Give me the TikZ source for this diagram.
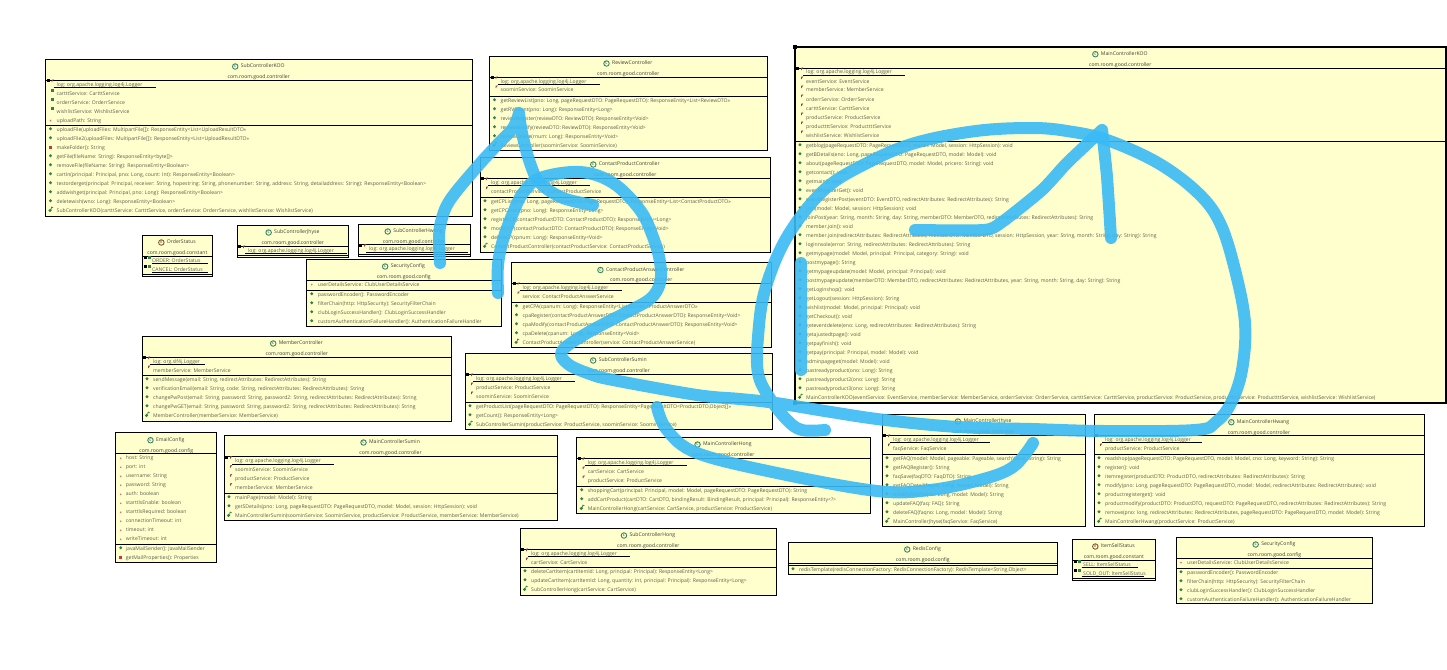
\documentclass[tikz,border=0pt]{standalone}
\usepackage{fontspec}
\usetikzlibrary{positioning}
\setmainfont{Open Sans}
\definecolor{boxfill}{RGB}{255,255,206}
\definecolor{rowtext}{RGB}{92,92,76}
\definecolor{titletext}{RGB}{62,62,52}
\definecolor{icongreen}{RGB}{48,128,72}
\definecolor{titlegreen}{RGB}{58,132,104}
\definecolor{enumbrown}{RGB}{130,85,55}
\definecolor{flagred}{RGB}{150,60,75}
\definecolor{methred}{RGB}{205,50,65}
\definecolor{inkblue}{RGB}{58,186,246}
\tikzset{
  classbox/.style={draw=black,fill=boxfill,line width=.9pt,anchor=north west,inner sep=0pt,outer sep=0pt},
  sepline/.style={draw=black,line width=.8pt},
  rowlabel/.style={anchor=west,inner sep=0pt,text=rowtext,text height=4pt,text depth=1.2pt,font=\fontsize{5.1}{5.5}\selectfont},
  classtitle/.style={inner sep=0pt,text=titletext,text height=4pt,text depth=1.2pt,font=\fontsize{5.1}{5.5}\selectfont},
  classicon/.style={circle,draw=titlegreen,line width=.9pt,inner sep=0pt,minimum size=5.5pt,text=titlegreen,font=\fontsize{3.4}{3}\selectfont\bfseries},
  enumicon/.style={classicon,draw=enumbrown,text=enumbrown},
  ink/.style={draw=inkblue,opacity=.9,line width=12pt,line cap=round,line join=round},
}
\newcounter{rowc}
\newif\ifenumtitle
\def\rowoff{11}
\def\bx{0}\def\rowy{0}\def\sepb{0}
% name, x1, y1, x2, y2, sep1, sep2, title, package
\newcommand\uclass[9]{%
  \pgfmathsetmacro\boxw{#4-#2}\pgfmathsetmacro\boxh{#5-#3}%
  \pgfmathsetmacro\midx{(#2+#4)/2+4}%
  \pgfmathsetmacro\rowtmp{#6+4.6}\xdef\rowy{\rowtmp}\xdef\bx{#2}\xdef\sepb{#7}%
  \node[classbox,minimum width=\boxw pt,minimum height=\boxh pt] (#1) at (#2,#3) {};
  \draw[sepline] (#2,#6) -- (#4,#6);
  \draw[sepline] (#2,#7) -- (#4,#7);
  \node[classtitle] (#1t) at (\midx,#3+7.5) {#8};
  \ifenumtitle
    \node[enumicon,left=2.2pt of #1t] (#1i) {E};
  \else
    \node[classicon,left=2.2pt of #1t] (#1i) {C};
  \fi
  \pgfmathsetmacro\midy{#3+18}\pgfmathsetmacro\midp{(#2+#4)/2}%
  \node[classtitle] (#1p) at (\midp,\midy) {#9};
}
\newcommand\nextrow{\pgfmathsetmacro\rowtmp{\rowy+9}\xdef\rowy{\rowtmp}}
\newcommand\rowtext[1]{%
  \stepcounter{rowc}%
  \pgfmathsetmacro\tx{\bx+\rowoff}%
  \node[rowlabel] (r\arabic{rowc}) at (\tx,\rowy) {#1};
}
% static log field: underline width, text
\newcommand\ulog[2]{%
  \fill[black] (\bx+1,\rowy-5.2) rectangle ++(3,3);
  \fill[flagred] (\bx+6,\rowy-4.8) -- ++(2.2,-.4) -- ++(-.6,1.2) -- ++(-.8,.2) -- ++(0,1.2) -- ++(-.8,0) -- cycle;
  \draw[black,line width=.6pt] (\bx+8,\rowy+2.6) -- ++(#1,0);
  \rowtext{#2}\nextrow}
% private final field
\newcommand\ufin[1]{%
  \fill[flagred] (\bx+6,\rowy-4.8) -- ++(2.2,-.4) -- ++(-.6,1.2) -- ++(-.8,.2) -- ++(0,1.2) -- ++(-.8,0) -- cycle;
  \rowtext{#1}\nextrow}
% protected field
\newcommand\ugrn[1]{\fill[icongreen] (\bx+5.5,\rowy-4.2) rectangle ++(3,2.6);\rowtext{#1}\nextrow}
% private field
\newcommand\upri[1]{\fill[methred!70!white] (\bx+5,\rowy) circle (.9pt);\rowtext{#1}\nextrow}
% enum constant
\newcommand\uenu[2]{%
  \fill[black] (\bx+1.5,\rowy-4.6) rectangle ++(3,3);
  \fill[icongreen] (\bx+6,\rowy-5) rectangle ++(3,3);
  \draw[black,line width=.6pt] (\bx+9.5,\rowy+2.6) -- ++(#1,0);
  \rowtext{#2}\nextrow}
% start of the methods compartment
\newcommand\umeths{\pgfmathsetmacro\rowtmp{\sepb+4.6}\xdef\rowy{\rowtmp}}
% public method
\newcommand\umet[1]{\fill[icongreen] (\bx+5,\rowy-.9) circle (1.6pt);\rowtext{#1}\nextrow}
% private method
\newcommand\upme[1]{\fill[methred] (\bx+3.4,\rowy-1.6) rectangle ++(3.2,2.8);\rowtext{#1}\nextrow}
% constructor
\newcommand\ucon[1]{\fill[icongreen] (\bx+4.6,\rowy-.2) circle (1.7pt);
  \draw[icongreen,line width=.7pt] (\bx+5.6,\rowy-1) -- ++(.6,-3) (\bx+5.8,\rowy-2.6) -- ++(1.8,-.6);
  \rowtext{#1}\nextrow}
\def\LOGT{log: org.apache.logging.log4j.Logger}
\def\PK{com.room.good.controller}
\def\PC{com.room.good.config}
\def\PN{com.room.good.constant}
\def\RA{RedirectAttributes}
\def\PR{PageRequestDTO}
\begin{document}
\begin{tikzpicture}[x=1pt,y=-1pt]
\useasboundingbox (0,0) rectangle (1447,669);
\fill[white] (0,0) rectangle (1447,669);

\uclass{subkoo}{45.5}{59}{472}{216}{80}{125}{SubControllerKOO}{\PK}
\ulog{102}{\LOGT}
\ugrn{cartttService: CartttService}
\ugrn{orderrService: OrderrService}
\ugrn{wishlistService: WishlistService}
\upri{uploadPath: String}
\umeths
\umet{uploadFile(uploadFiles: MultipartFile[]): ResponseEntity<List<UploadResultDTO>>}
\umet{uploadFile2(uploadFiles: MultipartFile[]): ResponseEntity<List<UploadResultDTO>>}
\upme{makeFolder(): String}
\umet{getFile(fileName: String): ResponseEntity<byte[]>}
\umet{removeFile(fileName: String): ResponseEntity<Boolean>}
\umet{cartIn(principal: Principal, pno: Long, count: Int): ResponseEntity<Boolean>}
\umet{testorderget(principal: Principal, receiver: String, hopestring: String, phonenumber: String, address: String, detailaddress: String): ResponseEntity<Boolean>}
\umet{addwishget(principal: Principal, pno: Long): ResponseEntity<Boolean>}
\umet{deletewish(wno: Long): ResponseEntity<Boolean>}
\ucon{SubControllerKOO(cartttService: CartttService, orderrService: OrderrService, wishlistService: WishlistService)}

\uclass{review}{489.5}{56}{767}{150}{77}{96}{ReviewController}{\PK}
\ulog{102}{\LOGT}
\ufin{soominService: SoominService}
\umeths
\umet{getReviewList(pno: Long, pageRequestDTO: \PR): ResponseEntity<List<ReviewDTO>>}
\umet{getRVCount(pno: Long): ResponseEntity<Long>}
\umet{reviewRegister(reviewDTO: ReviewDTO): ResponseEntity<Void>}
\umet{reviewModify(reviewDTO: ReviewDTO): ResponseEntity<Void>}
\umet{reviewDelete(rnum: Long): ResponseEntity<Void>}
\ucon{ReviewController(soominService: SoominService)}

\uclass{contactp}{480}{157}{770.5}{252}{178}{197}{ContactProductController}{\PK}
\ulog{102}{\LOGT}
\ufin{contactProductService: ContactProductService}
\umeths
\umet{getCPList(pno: Long, pageRequestDTO: \PR): ResponseEntity<List<ContactProductDTO>>}
\umet{getCPCount(pno: Long): ResponseEntity<Long>}
\umet{registerCP(contactProductDTO: ContactProductDTO): ResponseEntity<Long>}
\umet{modifyCP(contactProductDTO: ContactProductDTO): ResponseEntity<Void>}
\umet{deleteCP(cpnum: Long): ResponseEntity<Void>}
\ucon{ContactProductController(contactProductService: ContactProductService)}

\uclass{answer}{511.5}{262.5}{771}{347}{283}{302}{ContactProductAnswerController}{\PK}
\ulog{102}{\LOGT}
\ufin{service: ContactProductAnswerService}
\umeths
\umet{getCPA(cpanum: Long): ResponseEntity<List<ContactProductAnswerDTO>>}
\umet{cpaRegister(contactProductAnswerDTO: ContactProductAnswerDTO): ResponseEntity<Void>}
\umet{cpaModify(contactProductAnswerDTO: ContactProductAnswerDTO): ResponseEntity<Void>}
\umet{cpaDelete(cpanum: Long): ResponseEntity<Void>}
\ucon{ContactProductAnswerController(service: ContactProductAnswerService)}

\uclass{subsumin}{465}{353}{772.5}{429}{374}{402}{SubControllerSumin}{\PK}
\ulog{102}{\LOGT}
\ufin{productService: ProductService}
\ufin{soominService: SoominService}
\umeths
\umet{getProductList(pageRequestDTO: \PR): ResponseEntity<PageResultDTO<ProductDTO,Object[]>>}
\umet{getCount(): ResponseEntity<Long>}
\ucon{SubControllerSumin(productService: ProductService, soominService: SoominService)}

\uclass{mainkoo}{795}{46.7}{1445.5}{402.7}{68}{141}{MainControllerKOO}{\PK}
\ulog{102}{\LOGT}
\ufin{eventService: EventService}
\ufin{memberService: MemberService}
\ufin{orderrService: OrderrService}
\ufin{cartttService: CartttService}
\ufin{productService: ProductService}
\ufin{producttttService: ProducttttService}
\ufin{wishlistService: WishlistService}
\umeths
\umet{getblog(pageRequestDTO: \PR, model: Model, session: HttpSession): void}
\umet{getBDetails(eno: Long, pageRequestDTO: \PR, model: Model): void}
\umet{about(pageRequestDTO: \PR, model: Model, pricero: String): void}
\umet{getcontact(): void}
\umet{getmain(): void}
\umet{eventRegisterGet(): void}
\umet{eventRegisterPost(eventDTO: EventDTO, redirectAttributes: \RA): String}
\umet{join(model: Model, session: HttpSession): void}
\umet{joinPost(year: String, month: String, day: String, memberDTO: MemberDTO, redirectAttributes: \RA): String}
\umet{member.join(): void}
\umet{member.join(redirectAttributes: \RA, memberDTO: MemberDTO, session: HttpSession, year: String, month: String, day: String): String}
\umet{loginnsole(error: String, redirectAttributes: \RA): String}
\umet{getmypage(model: Model, principal: Principal, category: String): void}
\umet{postmypage(): String}
\umet{getmypageupdate(model: Model, principal: Principal): void}
\umet{postmypageupdate(memberDTO: MemberDTO, redirectAttributes: \RA, year: String, month: String, day: String): String}
\umet{getLoginshop(): void}
\umet{getLogout(session: HttpSession): String}
\umet{wishlist(model: Model, principal: Principal): void}
\umet{getCheckout(): void}
\umet{geteventdelete(eno: Long, redirectAttributes: \RA): String}
\umet{getajustedtpage(): void}
\umet{getpayfinish(): void}
\umet{getpay(principal: Principal, model: Model): void}
\umet{adminpageget(model: Model): void}
\umet{pastreadyproduct(ono: Long): String}
\umet{pastreadyproduct2(ono: Long): String}
\umet{pastreadyproduct3(ono: Long): String}
\ucon{MainControllerKOO(eventService: EventService, memberService: MemberService, orderrService: OrderrService, cartttService: CartttService, productService: ProductService, producttttService: ProducttttService, wishlistService: WishlistService)}
\draw[black,line width=2pt] (mainkoo.north west) rectangle (mainkoo.south east);
\fill[black] (793,44.7) rectangle ++(4,4);
\fill[black] (793,400.7) rectangle ++(4,4);

\enumtitletrue
\uclass{orderstatus}{142}{235}{212.7}{276}{256}{274.5}{OrderStatus}{\PN}
\def\rowoff{10}
\uenu{56}{ORDER: OrderStatus}
\uenu{56}{CANCEL: OrderStatus}
\enumtitlefalse
\def\rowoff{11}

\uclass{subjhyse}{237}{225}{348.7}{257}{246}{255}{SubControllerJhyse}{\PK}
\ulog{102}{\LOGT}
\uclass{subhwang}{358}{224}{470}{256}{244.7}{254.7}{SubControllerHwang}{\PK}
\ulog{102}{\LOGT}

\uclass{sec}{306.7}{259}{501}{326}{280}{290}{SecurityConfig}{\PC}
\upri{userDetailsService: ClubUserDetailsService}
\umeths
\umet{passwordEncoder(): PasswordEncoder}
\umet{filterChain(http: HttpSecurity): SecurityFilterChain}
\umet{clubLoginSuccessHandler(): ClubLoginSuccessHandler}
\umet{customAuthenticationFailureHandler(): AuthenticationFailureHandler}

\uclass{member}{142}{336}{451.7}{421}{357}{375}{MemberController}{\PK}
\ulog{55}{log: org.slf4j.Logger}
\ufin{memberService: MemberService}
\umeths
\umet{sendMessage(email: String, redirectAttributes: \RA): String}
\umet{verificationEmail(email: String, code: String, redirectAttributes: \RA): String}
\umet{changePwPost(email: String, password: String, password2: String, redirectAttributes: \RA): String}
\umet{changePwGET(email: String, password: String, password2: String, redirectAttributes: \RA): String}
\ucon{MemberController(memberService: MemberService)}

\def\rowoff{10}
\uclass{email}{115.7}{432.7}{216.7}{562}{453.7}{544}{EmailConfig}{\PC}
\upri{host: String}
\upri{port: int}
\upri{username: String}
\upri{password: String}
\upri{auth: boolean}
\upri{starttlsEnable: boolean}
\upri{starttlsRequired: boolean}
\upri{connectionTimeout: int}
\upri{timeout: int}
\upri{writeTimeout: int}
\umeths
\umet{javaMailSender(): JavaMailSender}
\upme{getMailProperties(): Properties}
\def\rowoff{11}

\uclass{mainsumin}{224}{435}{557}{520}{456.7}{493}{MainControllerSumin}{\PK}
\ulog{102}{\LOGT}
\ufin{soominService: SoominService}
\ufin{productService: ProductService}
\ufin{memberService: MemberService}
\umeths
\umet{mainPage(model: Model): String}
\umet{getSDetails(pno: Long, pageRequestDTO: \PR, model: Model, session: HttpSession): void}
\ucon{MainControllerSumin(soominService: SoominService, productService: ProductService, memberService: MemberService)}

\uclass{mainhong}{576.7}{437}{870}{513}{458}{486}{MainControllerHong}{\PK}
\ulog{102}{\LOGT}
\ufin{cartService: CartService}
\ufin{productService: ProductService}
\umeths
\umet{shoppingCart(principal: Principal, model: Model, pageRequestDTO: \PR): String}
\umet{addCartProduct(cartDTO: CartDTO, bindingResult: BindingResult, principal: Principal): ResponseEntity<?>}
\ucon{MainControllerHong(cartService: CartService, productService: ProductService)}

\uclass{subhong}{520}{528}{776.7}{595}{549}{567}{SubControllerHong}{\PK}
\ulog{102}{\LOGT}
\ufin{cartService: CartService}
\umeths
\umet{deleteCartItem(cartItemId: Long, principal: Principal): ResponseEntity<Long>}
\umet{updateCartItem(cartItemId: Long, quantity: Int, principal: Principal): ResponseEntity<Long>}
\ucon{SubControllerHong(cartService: CartService)}

\uclass{mainjhyse}{882}{414}{1085}{526}{435}{454}{MainControllerJhyse}{\PK}
\ulog{100}{\LOGT}
\ufin{faqService: FaqService}
\umeths
\umet{getFAQ(model: Model, pageable: Pageable, searchValue: String): String}
\umet{getFAQRegister(): String}
\umet{faqSave(faqDTO: FaqDTO): String}
\umet{getFAQDetail(faqno: Long, model: Model): String}
\umet{modifyFAQ(faqno: Long, model: Model): String}
\umet{updateFAQ(faq: FAQ): String}
\umet{deleteFAQ(faqno: Long, model: Model): String}
\ucon{MainControllerJhyse(faqService: FaqService)}

\uclass{mainhwang}{1094}{414.7}{1424}{526}{435}{454}{MainControllerHwang}{\PK}
\ulog{100}{\LOGT}
\ufin{productService: ProductService}
\umeths
\umet{readshop(pageRequestDTO: \PR, model: Model, cno: Long, keyword: String): String}
\umet{register(): void}
\umet{itemregister(productDTO: ProductDTO, redirectAttributes: \RA): String}
\umet{modify(pno: Long, pageRequestDTO: \PR, model: Model, redirectAttributes: \RA): void}
\umet{productregisterget(): void}
\umet{productmodify(productDTO: ProductDTO, requestDTO: \PR, redirectAttributes: \RA): String}
\umet{remove(pno: long, redirectAttributes: \RA, pageRequestDTO: \PR, model: Model): String}
\ucon{MainControllerHwang(productService: ProductService)}

\uclass{redis}{788}{542}{1057.7}{574}{563}{565}{RedisConfig}{\PC}
\umeths
\umet{redisTemplate(redisConnectionFactory: RedisConnectionFactory): RedisTemplate<String,Object>}

\enumtitletrue
\uclass{itemstatus}{1072}{539}{1155.7}{580}{560}{578.5}{ItemSellStatus}{\PN}
\uenu{56}{SELL: ItemSellStatus}
\uenu{62}{SOLD\_OUT: ItemSellStatus}
\enumtitlefalse

\uclass{sec2}{1176}{537}{1372.7}{603.7}{558}{568}{SecurityConfig}{\PC}
\upri{userDetailsService: ClubUserDetailsService}
\umeths
\umet{passwordEncoder(): PasswordEncoder}
\umet{filterChain(http: HttpSecurity): SecurityFilterChain}
\umet{clubLoginSuccessHandler(): ClubLoginSuccessHandler}
\umet{customAuthenticationFailureHandler(): AuthenticationFailureHandler}

% hand-drawn blue strokes over the diagram
\draw[ink] plot[smooth,tension=.6] coordinates {(440,263) (439,240) (441,222) (450,200) (477,167) (497,145) (513,128) (519,113)}
  plot[smooth,tension=.6] coordinates {(519,113) (522,133) (530,163) (540,183) (563,198) (593,205)};
\draw[ink] plot[smooth,tension=.6] coordinates {(498,293) (498,265) (503,240) (513,213) (523,193) (540,178) (580,172) (613,183) (640,210) (653,237) (660,262) (660,283) (650,299) (625,313) (587,333) (562,351) (568,364) (590,374) (613,380) (697,395) (740,399) (776,403) (831,412) (885,420) (958,427) (1031,429) (1104,431) (1195,430) (1216,422) (1231,403) (1242,370) (1245,323) (1235,270) (1220,223) (1198,193) (1158,163) (1107,140) (1067,131) (1031,128) (976,131) (915,143) (867,163) (824,190) (787,237) (765,290) (758,337) (758,373) (769,397) (787,420) (802,430) (825,430)};
\draw[ink] plot[smooth,tension=.4] coordinates {(915,230) (984,230) (1002,222) (1042,190) (1067,163) (1102,130)}
  plot[smooth,tension=.4] coordinates {(1102,130) (1107,177) (1111,238)};
\draw[ink] (801,263) -- (801,370);
\draw[ink] plot[smooth,tension=.6] coordinates {(657,407) (667,430) (697,453) (777,473) (877,491) (930,490) (980,480) (1013,467) (1033,443)};
\end{tikzpicture}
\end{document}
